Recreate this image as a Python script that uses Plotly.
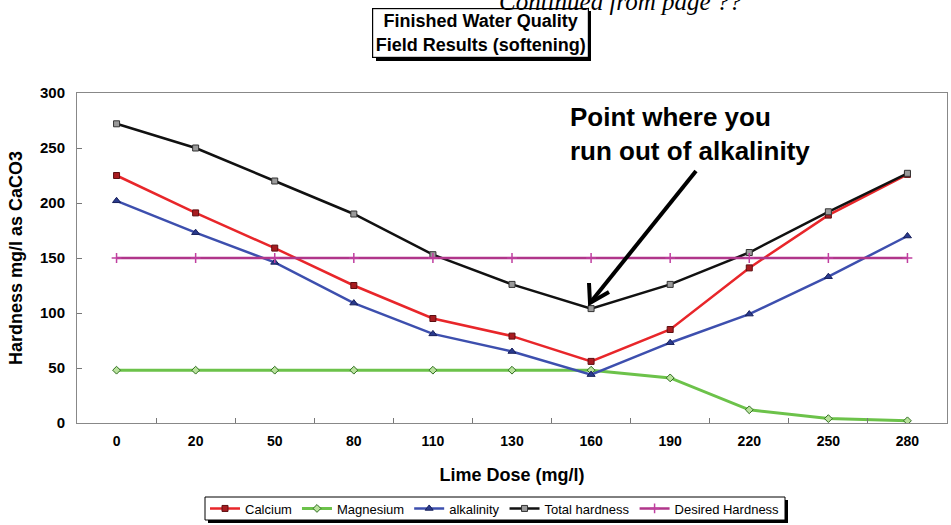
import plotly.graph_objects as go

# ---------------- data ----------------
lime_dose = ["0", "20", "50", "80", "110", "130", "160", "190", "220", "250", "280"]
calcium = [225, 191, 159, 125, 95, 79, 56, 85, 141, 189, 226]
magnesium = [48, 48, 48, 48, 48, 48, 48, 41, 12, 4, 2]
alkalinity = [202, 173, 146, 109, 81, 65, 44, 73, 99, 133, 170]
total_hardness = [272, 250, 220, 190, 153, 126, 104, 126, 155, 192, 227]
desired_hardness = [150, 150, 150, 150, 150, 150, 150, 150, 150, 150, 150]

y_ticks = [0, 50, 100, 150, 200, 250, 300]

# ---------------- layout helpers (pixel -> paper) ----------------
W_PX, H_PX = 951, 525
L, R, T, B = 77, 947, 93, 423
PW, PH = R - L, B - T


def px(x):
    return (x - L) / PW


def py(y):
    return (B - y) / PH


FONT = "Liberation Sans, Arial, sans-serif"

fig = go.Figure()

series = [
    ("Calcium", calcium, "#e8262a", 2.5, "square", 6, "#a81c20", "#5e0f12"),
    ("Magnesium", magnesium, "#6cc24a", 3, "diamond", 6, "#b9e29c", "#2f6d20"),
    ("alkalinity", alkalinity, "#3d4fae", 2.5, "triangle-up", 7, "#2a3a8c", "#18205c"),
    ("Total hardness", total_hardness, "#111111", 2.5, "square", 6, "#9a9a9a", "#333333"),
    ("Desired Hardness", desired_hardness, "#b0368a", 2.5, "cross-thin", 7, "#c040a0", "#c040a0"),
]

for name, vals, col, lw, sym, msz, mfill, mline in series:
    fig.add_trace(go.Scatter(
        x=lime_dose, y=vals, name=name, mode="lines+markers",
        line=dict(color=col, width=lw),
        marker=dict(symbol=sym, size=msz, color=mfill,
                    line=dict(color=mline, width=1.5 if sym == "cross-thin" else 1)),
    ))

shapes = []
# title box shadow
shapes.append(dict(type="rect", xref="paper", yref="paper",
                   x0=px(376), x1=px(591), y0=py(11), y1=py(61),
                   fillcolor="black", line=dict(width=0), layer="above"))
# legend frame: shadow + white box
shapes.append(dict(type="rect", xref="paper", yref="paper",
                   x0=px(208), x1=px(788), y0=py(500), y1=py(523),
                   fillcolor="black", line=dict(width=0), layer="above"))
shapes.append(dict(type="rect", xref="paper", yref="paper",
                   x0=px(205), x1=px(785), y0=py(497), y1=py(520),
                   fillcolor="white", line=dict(color="black", width=1), layer="above"))

# arrow (shaft + chevron head)
tip = (590, 303)
tail = (696, 171)
shapes.append(dict(type="line", xref="paper", yref="paper",
                   x0=px(tail[0]), y0=py(tail[1]), x1=px(tip[0]), y1=py(tip[1]),
                   line=dict(color="black", width=4)))
shapes.append(dict(type="path", xref="paper", yref="paper",
                   path=f"M {px(589)} {py(283)} L {px(tip[0])} {py(tip[1])} L {px(609)} {py(292)}",
                   line=dict(color="black", width=4)))

annotations = [
    dict(text="<b>Finished Water Quality<br>Field Results (softening)</b>",
         xref="paper", yref="paper", x=px(480.5), y=py(33),
         xanchor="center", yanchor="middle", showarrow=False,
         font=dict(family=FONT, size=18, color="black"),
         bgcolor="white", bordercolor="black", borderwidth=1.2,
         width=211, height=44, borderpad=2),
    dict(text="<b>Point where you<br>run out of alkalinity</b>",
         xref="paper", yref="paper", x=px(568), y=py(100),
         xanchor="left", yanchor="top", align="left", showarrow=False,
         font=dict(family=FONT, size=26, color="black")),
    dict(text="<i>Continued from page ??</i>",
         xref="paper", yref="paper", x=px(497), y=py(1),
         xanchor="left", yanchor="middle", showarrow=False,
         font=dict(family="Liberation Serif, DejaVu Serif, serif", size=25, color="black")),
]

fig.update_layout(
    width=W_PX, height=H_PX,
    margin=dict(l=L, r=W_PX - R, t=T, b=H_PX - B, autoexpand=False),
    paper_bgcolor="white", plot_bgcolor="white",
    font=dict(family=FONT, color="black"),
    showlegend=True,
    legend=dict(orientation="h", x=px(495), y=py(508.5), xanchor="center", yanchor="middle",
                bgcolor="rgba(0,0,0,0)", borderwidth=0,
                font=dict(family=FONT, size=13, color="black"),
                itemwidth=30, tracegroupgap=0),
    shapes=shapes,
    annotations=annotations,
)

fig.update_xaxes(
    type="category", categoryorder="array", categoryarray=lime_dose,
    range=[-0.5, len(lime_dose) - 0.5],
    tickson="boundaries", ticks="inside", ticklen=5, tickcolor="#777777",
    showline=True, linecolor="#888888", linewidth=1, mirror=True,
    showgrid=False, zeroline=False,
    tickfont=dict(family=FONT, size=14, color="black", weight="bold"),
    ticklabelstandoff=5,
    title=dict(text="<b>Lime Dose (mg/l)</b>", font=dict(family=FONT, size=18, color="black"),
               standoff=20),
)

fig.update_yaxes(
    range=[0, 300], tickvals=y_ticks, ticktext=[str(v) for v in y_ticks],
    ticks="inside", ticklen=5, tickcolor="#777777",
    showline=True, linecolor="#888888", linewidth=1, mirror=True,
    showgrid=False, zeroline=False,
    tickfont=dict(family=FONT, size=15, color="black", weight="bold"),
    ticklabelstandoff=8,
    title=dict(text="<b>Hardness mg/l as CaCO3</b>", font=dict(family=FONT, size=18, color="black"),
               standoff=12),
)

fig.write_html("out.html")
